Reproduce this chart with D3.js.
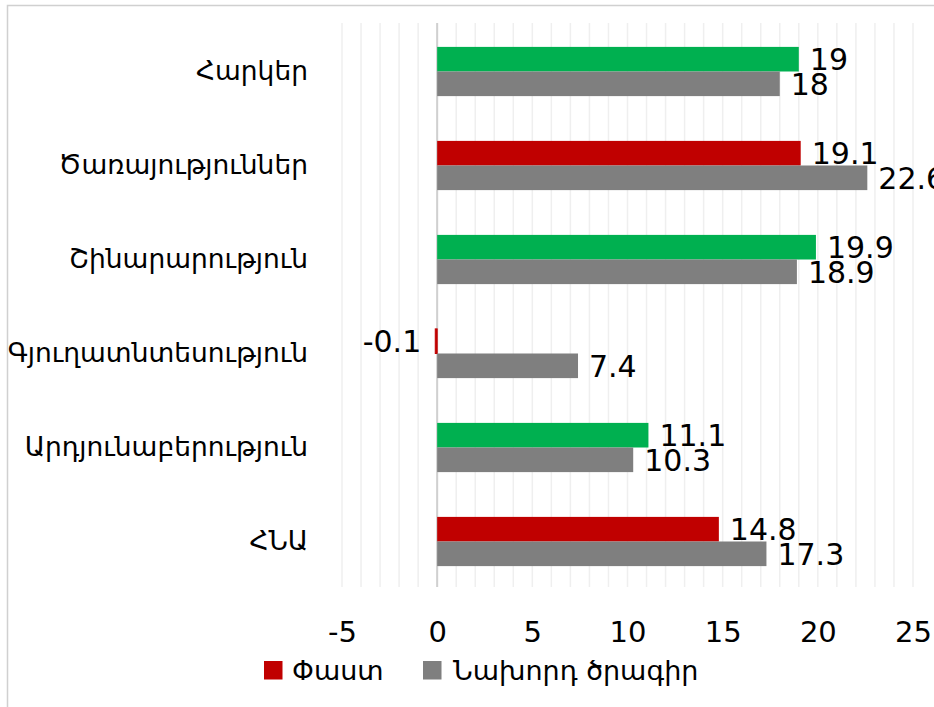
<!DOCTYPE html>
<html>
<head>
<meta charset="utf-8">
<script src="https://cdn.jsdelivr.net/npm/d3@7"></script>
<style>
  body { margin: 0; background: #fff; }
  svg text { font-family: "DejaVu Sans", sans-serif; fill: #000; }
</style>
</head>
<body>
<div id="chart"></div>
<script>
// Data
var categories = ["Հարկեր", "Ծառայություններ", "Շինարարություն", "Գյուղատնտեսություն", "Արդյունաբերություն", "ՀՆԱ"];
var factValues = [19, 19.1, 19.9, -0.1, 11.1, 14.8];
var prevValues = [18, 22.6, 18.9, 7.4, 10.3, 17.3];
var seriesNames = ["Փաստ", "Նախորդ ծրագիր"];
var xTicks = [-5, 0, 5, 10, 15, 20, 25];

var width = 934;
var height = 707;

// Colours
var green = "#00b050";
var red = "#c00000";
var gray = "#7f7f7f";

// Plot box
var plotTop = 23;
var plotBottom = 587;

var svg = d3.select("#chart")
  .append("svg")
  .attr("width", width)
  .attr("height", height);

svg.append("rect")
  .attr("width", width)
  .attr("height", height)
  .attr("fill", "#fff");

// Outer chart frame (runs off the right/bottom edge like the picture)
svg.append("rect")
  .attr("x", 7.5)
  .attr("y", 5.5)
  .attr("width", width + 20)
  .attr("height", height + 20)
  .attr("fill", "none")
  .attr("stroke", "#d0d0d0")
  .attr("stroke-width", 1.5);

var xScale = d3.scaleLinear()
  .domain([-5, 25])
  .range([342, 913]);

var yScale = d3.scaleBand()
  .domain(categories)
  .range([plotTop, plotBottom]);

var subScale = d3.scaleBand()
  .domain(["fact", "prev"])
  .range([0, yScale.bandwidth()])
  .paddingOuter(0.91)
  .paddingInner(0);

// Minor gridlines, one per unit
svg.append("g")
  .selectAll("line")
  .data(d3.range(-5, 26))
  .enter()
  .append("line")
  .attr("x1", function(d) { return xScale(d); })
  .attr("x2", function(d) { return xScale(d); })
  .attr("y1", plotTop)
  .attr("y2", plotBottom)
  .attr("stroke", "#efefef")
  .attr("stroke-width", 1.5);

// Zero line
svg.append("line")
  .attr("x1", xScale(0))
  .attr("x2", xScale(0))
  .attr("y1", plotTop)
  .attr("y2", plotBottom)
  .attr("stroke", "#d0d0d0")
  .attr("stroke-width", 2);

var rows = categories.map(function(c, i) {
  return { cat: c, fact: factValues[i], prev: prevValues[i] };
});

var groups = svg.append("g")
  .selectAll("g")
  .data(rows)
  .enter()
  .append("g")
  .attr("transform", function(d) { return "translate(0," + (yScale(d.cat) + 1.5) + ")"; });

function barColor(d, key) {
  if (key === "prev") return gray;
  return d.fact >= d.prev ? green : red;
}

["fact", "prev"].forEach(function(key) {
  groups.append("rect")
    .attr("x", function(d) { return xScale(Math.min(0, d[key])); })
    .attr("y", subScale(key))
    .attr("width", function(d) { return Math.abs(xScale(d[key]) - xScale(0)); })
    .attr("height", subScale.bandwidth())
    .attr("fill", function(d) { return barColor(d, key); })
    .attr("stroke", function(d) { return d[key] < 0 ? barColor(d, key) : "none"; })
    .attr("stroke-width", 1);

  groups.append("text")
    .attr("x", function(d) {
      return d[key] < 0 ? xScale(d[key]) - 14 : xScale(d[key]) + 11;
    })
    .attr("y", subScale(key) + subScale.bandwidth() / 2)
    .attr("dy", "0.36em")
    .attr("text-anchor", function(d) { return d[key] < 0 ? "end" : "start"; })
    .style("font-size", "30px")
    .text(function(d) { return d[key]; });
});

// Category labels
var yAxis = d3.axisLeft(yScale).tickSize(0).tickPadding(0);
svg.append("g")
  .attr("transform", "translate(308,2)")
  .call(yAxis)
  .call(function(g) { g.select(".domain").remove(); })
  .selectAll("text")
  .style("font-size", "26.5px")
  .style("font-family", "'DejaVu Sans', sans-serif")
  .attr("fill", "#000");

// X tick labels
var xAxis = d3.axisBottom(xScale)
  .tickValues(xTicks)
  .tickFormat(function(d) { return String(d); })
  .tickSize(0)
  .tickPadding(0);
svg.append("g")
  .attr("transform", "translate(0,621)")
  .call(xAxis)
  .call(function(g) { g.select(".domain").remove(); })
  .selectAll("text")
  .attr("dy", "0.72em")
  .style("font-size", "29px")
  .style("font-family", "'DejaVu Sans', sans-serif")
  .attr("fill", "#000");

// Legend
var legendX = [264, 423];
var legend = svg.append("g")
  .selectAll("g")
  .data(seriesNames)
  .enter()
  .append("g")
  .attr("transform", function(d, i) { return "translate(" + legendX[i] + ",661)"; });

legend.append("rect")
  .attr("width", 18.5)
  .attr("height", 18.5)
  .attr("fill", function(d, i) { return i === 0 ? red : gray; });

legend.append("text")
  .attr("x", function(d, i) { return i === 0 ? 28 : 30; })
  .attr("y", 18.5)
  .style("font-size", "27px")
  .text(function(d) { return d; });
</script>
</body>
</html>
